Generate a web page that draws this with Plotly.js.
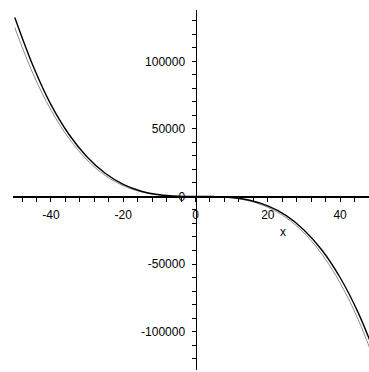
<!DOCTYPE html>
<html>
<head>
<meta charset="utf-8">
<script src="https://cdn.plot.ly/plotly-3.0.1.min.js"></script>
<style>html,body{margin:0;padding:0;background:#fff;}#chart{width:369px;height:372px;}</style>
</head>
<body>
<div id="chart"></div>
<script>
const xValues = [-50,-45,-40,-35,-30,-25,-20,-15,-10,-5,0,5,10,15,20,25,30,35,40,45,50];
const blackCurve = [132500,97000,68000,45900,29250,17200,9000,3900,1250,190,0,-60,-750,-2800,-7000,-14000,-24750,-39800,-60000,-86000,-118700];
const grayCurve = [125000,91100,64000,42900,27000,15600,8000,3400,1000,125,0,-125,-1000,-3400,-8000,-15600,-27000,-42900,-64000,-91100,-125000];

const xTickVals = [-48,-44,-40,-36,-32,-28,-24,-20,-16,-12,-8,-4,0,4,8,12,16,20,24,28,32,36,40,44,48];
const xTickText = ['','','-40','','','','','-20','','','','','0','','','','','20','','','','','40','',''];
const yTickVals = [-120000,-110000,-100000,-90000,-80000,-70000,-60000,-50000,-40000,-30000,-20000,-10000,0,10000,20000,30000,40000,50000,60000,70000,80000,90000,100000,110000,120000,130000];
const yTickText = yTickVals.map(v => (v % 50000 === 0) ? String(v) : '');

const xRange = [-50.5, 48.0];
const yRange = [-128500, 138100];

const traces = [
  {x: xValues, y: grayCurve, mode: 'lines', line: {color: '#8c8c8c', width: 1, shape: 'spline'}, hoverinfo: 'none'},
  {x: xValues, y: blackCurve, mode: 'lines', line: {color: '#000', width: 1.4, shape: 'spline'}, hoverinfo: 'none'}
];

const font = {family: '"Liberation Sans", Arial, sans-serif', size: 12, color: '#000'};

const layout = {
  width: 369, height: 372,
  margin: {l: 13, r: 0, t: 10, b: 2, pad: 0},
  paper_bgcolor: '#fff', plot_bgcolor: '#fff',
  showlegend: false,
  font: font,
  xaxis: {
    range: xRange, anchor: 'free', position: (0 - yRange[0]) / (yRange[1] - yRange[0]),
    showgrid: false, zeroline: false, showline: true, linecolor: '#000', linewidth: 1.5,
    tickmode: 'array', tickvals: xTickVals, ticktext: xTickText,
    ticks: 'outside', ticklen: 4, tickwidth: 1, tickcolor: '#000',
    ticklabelstandoff: 3, tickfont: font
  },
  yaxis: {
    range: yRange, anchor: 'free', position: (0 - xRange[0]) / (xRange[1] - xRange[0]),
    showgrid: false, zeroline: false, showline: true, linecolor: '#000', linewidth: 1.5,
    tickmode: 'array', tickvals: yTickVals, ticktext: yTickText,
    ticks: 'outside', ticklen: 4, tickwidth: 1, tickcolor: '#000',
    ticklabelstandoff: 4, tickfont: font
  },
  annotations: [
    {x: 24.2, y: -26300, xref: 'x', yref: 'y', text: 'x', showarrow: false, font: font}
  ]
};

Plotly.newPlot('chart', traces, layout, {staticPlot: true, displayModeBar: false});
</script>
</body>
</html>
